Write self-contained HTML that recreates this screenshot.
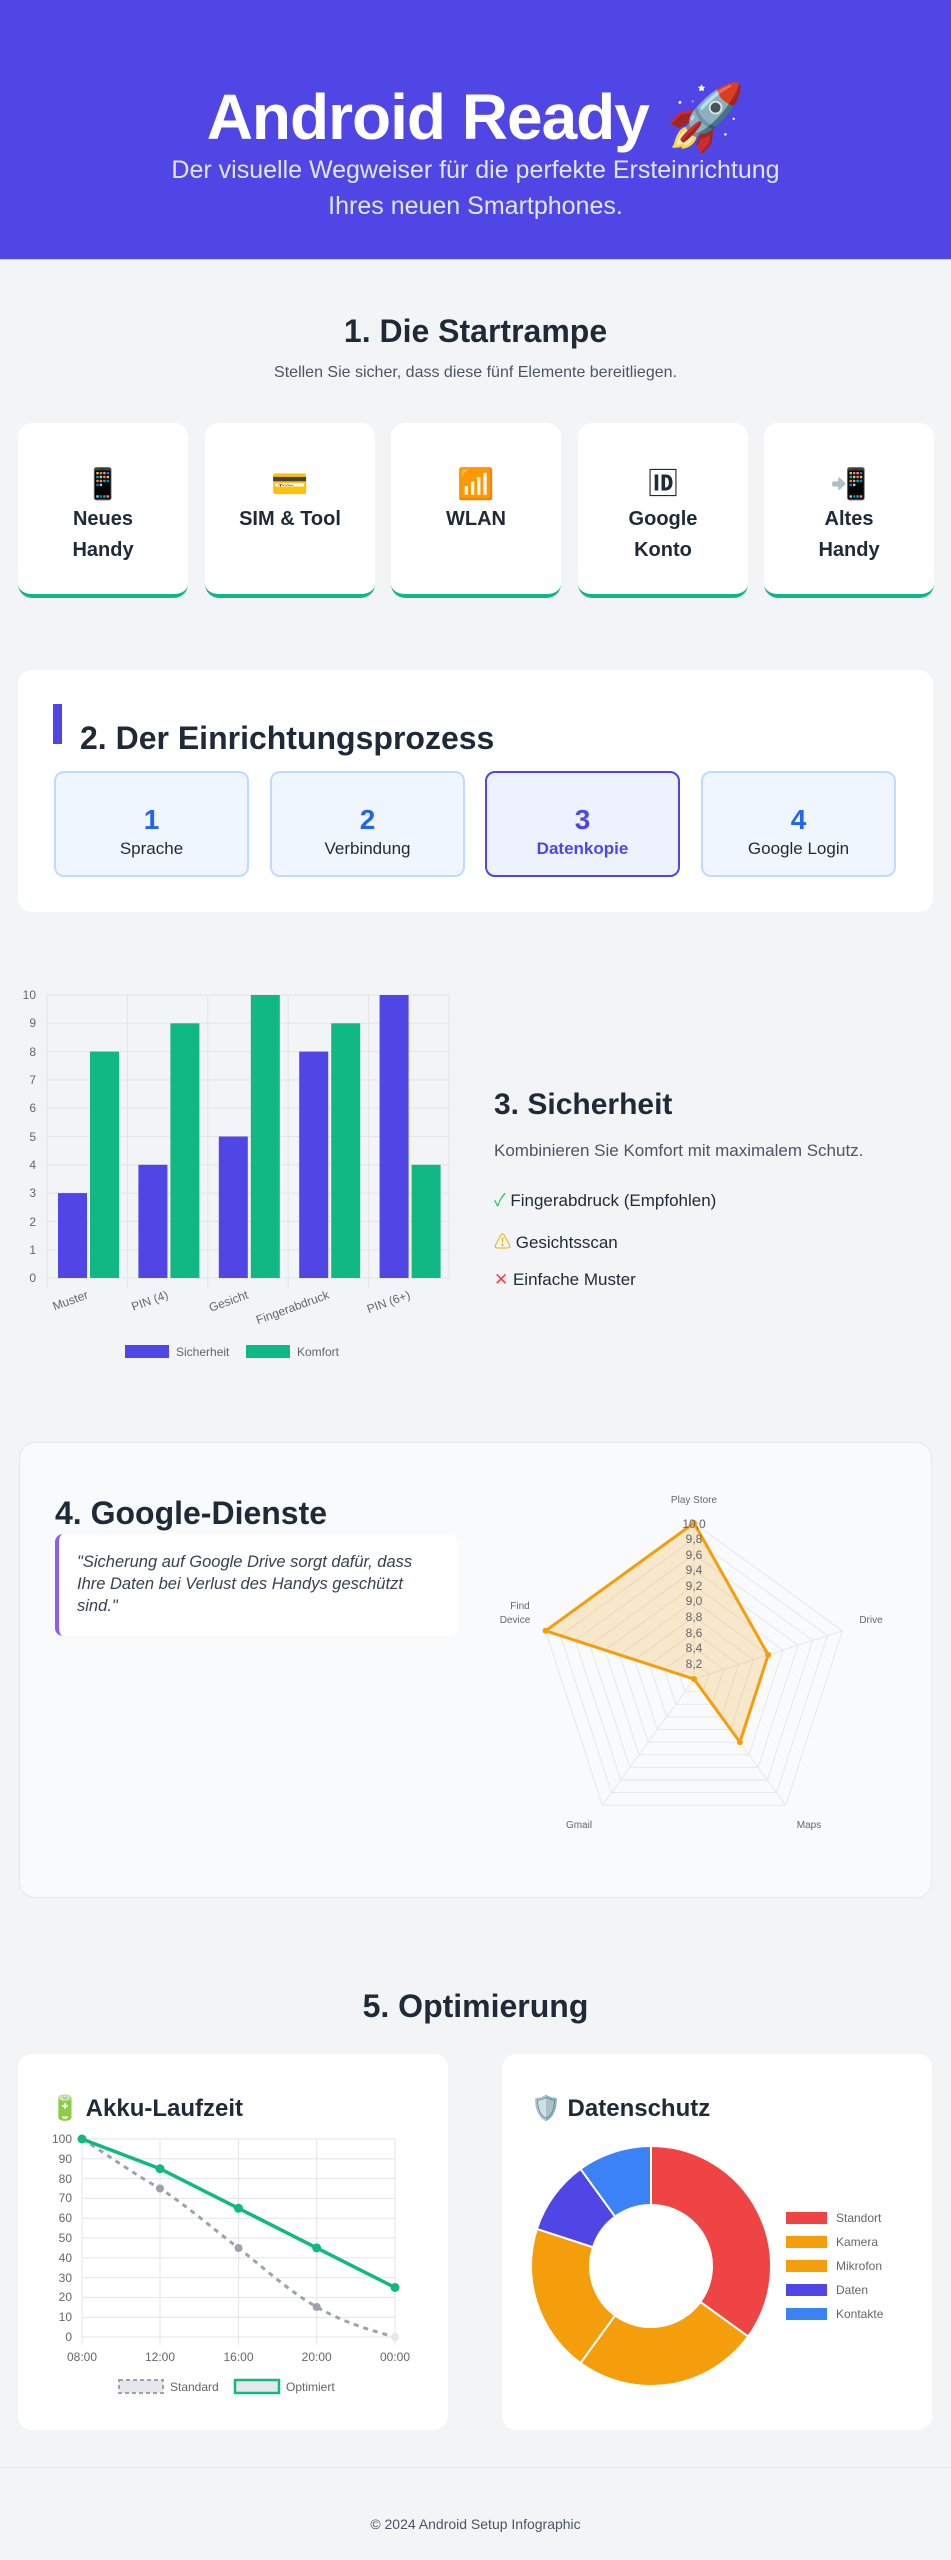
<!DOCTYPE html>
<html><head><meta charset="utf-8"><style>
*{margin:0;padding:0;box-sizing:border-box}
body{width:951px;height:2560px;background:#f3f4f6;font-family:"Liberation Sans","Noto Sans CJK SC",sans-serif;position:relative;overflow:hidden;color:#1f2937}
.a{position:absolute}
.hdr{left:0;top:0;width:951px;height:260px;background:#4f46e5;border-bottom:1px solid #c7d2fe}
.t{width:100%;text-align:center}
.card{background:#fff;border-radius:14px}
.sc{top:423px;width:170px;height:175px;border-bottom:4px solid #10b981;text-align:center;font-weight:bold;font-size:20px;line-height:31px;color:#1f2937}
.sc .ic{display:block;font-size:30px;line-height:34px;margin-top:45px;margin-bottom:2px}
.step{top:771px;width:195px;height:106px;background:#eff6ff;border:2px solid #bfdbfe;border-radius:10px;text-align:center}
.step b{display:block;font-size:28px;color:#2563eb;margin-top:30px;line-height:34px}
.step span{display:block;font-size:17px;color:#1f2937;margin-top:2px}
</style></head><body>
<div class="a hdr"></div>
<div class="a t" style="top:80px;font-size:64px;font-weight:bold;color:#fff;letter-spacing:-1px">Android Ready 🚀</div>
<div class="a t" style="top:152px;font-size:25px;line-height:36px;color:#e0e7ff">Der visuelle Wegweiser für die perfekte Ersteinrichtung<br>Ihres neuen Smartphones.</div>

<div class="a t" style="top:313px;font-size:32px;font-weight:bold;color:#1f2937">1. Die Startrampe</div>
<div class="a t" style="top:364px;font-size:16px;color:#4b5563">Stellen Sie sicher, dass diese fünf Elemente bereitliegen.</div>

<div class="a card sc" style="left:18px"><span class="ic">📱</span>Neues<br>Handy</div>
<div class="a card sc" style="left:205px"><span class="ic">💳</span>SIM &amp; Tool</div>
<div class="a card sc" style="left:391px"><span class="ic">📶</span>WLAN</div>
<div class="a card sc" style="left:578px"><span class="ic">🆔</span>Google<br>Konto</div>
<div class="a card sc" style="left:764px"><span class="ic">📲</span>Altes<br>Handy</div>

<div class="a card" style="left:18px;top:670px;width:915px;height:242px"></div>
<div class="a" style="left:53px;top:704px;width:9px;height:40px;background:#4f46e5"></div>
<div class="a" style="left:80px;top:720px;font-size:32px;font-weight:bold;color:#1f2937">2. Der Einrichtungsprozess</div>
<div class="a step" style="left:54px"><b>1</b><span>Sprache</span></div>
<div class="a step" style="left:270px"><b>2</b><span>Verbindung</span></div>
<div class="a step" style="left:485px;border-color:#4f46e5;background:#eef2ff"><b style="color:#4f46e5">3</b><span style="color:#4f46e5;font-weight:bold">Datenkopie</span></div>
<div class="a step" style="left:701px"><b>4</b><span>Google Login</span></div>

<div class="a" style="left:494px;top:1088px;font-size:30px;font-weight:bold;color:#1f2937">3. Sicherheit</div>
<div class="a" style="left:494px;top:1141px;font-size:17px;color:#4b5563">Kombinieren Sie Komfort mit maximalem Schutz.</div>
<div class="a" style="left:494px;top:1186px;font-size:17px;color:#1f2937"><span style="color:#22c55e">✓</span> Fingerabdruck (Empfohlen)</div>
<div class="a" style="left:494px;top:1228px;font-size:17px;color:#1f2937"><span style="color:#eab308">⚠</span> Gesichtsscan</div>
<div class="a" style="left:494px;top:1270px;font-size:17px;color:#1f2937"><span style="color:#ef4444">✕</span> Einfache Muster</div>

<div class="a" style="left:19px;top:1442px;width:913px;height:456px;background:#f8fafc;border:1px solid #e5e7eb;border-radius:16px"></div>
<div class="a" style="left:55px;top:1495px;font-size:32px;font-weight:bold;color:#1f2937">4. Google-Dienste</div>
<div class="a" style="left:55px;top:1534px;width:402px;height:102px;background:#fff;border-left:4px solid #8b5cf6;border-radius:8px;padding:17px 30px 0 18px;font-size:16.5px;line-height:22px;font-style:italic;color:#374151">"Sicherung auf Google Drive sorgt dafür, dass Ihre Daten bei Verlust des Handys geschützt sind."</div>

<div class="a t" style="top:1988px;font-size:32px;font-weight:bold;color:#1f2937">5. Optimierung</div>
<div class="a card" style="left:18px;top:2054px;width:430px;height:376px"></div>
<div class="a card" style="left:502px;top:2054px;width:430px;height:376px"></div>
<div class="a" style="left:50px;top:2094px;font-size:24px;font-weight:bold;color:#1f2937">🔋 Akku-Laufzeit</div>
<div class="a" style="left:531px;top:2094px;font-size:24px;font-weight:bold;color:#1f2937">🛡️ Datenschutz</div>

<div class="a" style="left:0;top:2467px;width:951px;border-top:1px solid #e5e7eb"></div>
<div class="a t" style="top:2516px;font-size:14px;color:#4b5563">© 2024 Android Setup Infographic</div>

<svg class="a" style="left:0;top:0" width="951" height="2560" font-family="Liberation Sans, sans-serif">
<g stroke="#e5e5e5" stroke-width="1">
<line x1="47" y1="995" x2="449" y2="995"/><line x1="47" y1="1023.3" x2="449" y2="1023.3"/><line x1="47" y1="1051.6" x2="449" y2="1051.6"/><line x1="47" y1="1079.9" x2="449" y2="1079.9"/><line x1="47" y1="1108.2" x2="449" y2="1108.2"/><line x1="47" y1="1136.5" x2="449" y2="1136.5"/><line x1="47" y1="1164.8" x2="449" y2="1164.8"/><line x1="47" y1="1193.1" x2="449" y2="1193.1"/><line x1="47" y1="1221.4" x2="449" y2="1221.4"/><line x1="47" y1="1249.7" x2="449" y2="1249.7"/><line x1="47" y1="1278" x2="449" y2="1278"/>
<line x1="47" y1="995" x2="47" y2="1288"/><line x1="127.4" y1="995" x2="127.4" y2="1288"/><line x1="207.8" y1="995" x2="207.8" y2="1288"/><line x1="288.2" y1="995" x2="288.2" y2="1288"/><line x1="368.6" y1="995" x2="368.6" y2="1288"/><line x1="449" y1="995" x2="449" y2="1278"/>
</g>
<g font-size="12" fill="#666" text-anchor="end">
<text x="36" y="999">10</text><text x="36" y="1027">9</text><text x="36" y="1056">8</text><text x="36" y="1084">7</text><text x="36" y="1112">6</text><text x="36" y="1141">5</text><text x="36" y="1169">4</text><text x="36" y="1197">3</text><text x="36" y="1226">2</text><text x="36" y="1254">1</text><text x="36" y="1282">0</text>
</g>
<g fill="#4f46e5">
<rect x="58" y="1193.1" width="29" height="84.9"/><rect x="138.4" y="1164.8" width="29" height="113.2"/><rect x="218.8" y="1136.5" width="29" height="141.5"/><rect x="299.2" y="1051.6" width="29" height="226.4"/><rect x="379.6" y="995" width="29" height="283"/>
</g>
<g fill="#10b981">
<rect x="90" y="1051.6" width="29" height="226.4"/><rect x="170.4" y="1023.3" width="29" height="254.7"/><rect x="250.8" y="995" width="29" height="283"/><rect x="331.2" y="1023.3" width="29" height="254.7"/><rect x="411.6" y="1164.8" width="29" height="113.2"/>
</g>
<g font-size="12" fill="#666" text-anchor="end">
<text transform="translate(89,1298) rotate(-20)">Muster</text>
<text transform="translate(169,1298) rotate(-20)">PIN (4)</text>
<text transform="translate(249,1298) rotate(-20)">Gesicht</text>
<text transform="translate(330,1298) rotate(-20)">Fingerabdruck</text>
<text transform="translate(411,1298) rotate(-20)">PIN (6+)</text>
</g>
<rect x="125" y="1345" width="44" height="13" fill="#4f46e5"/><text x="176" y="1356" font-size="12" fill="#666">Sicherheit</text>
<rect x="246" y="1345" width="44" height="13" fill="#10b981"/><text x="297" y="1356" font-size="12" fill="#666">Komfort</text>

<g fill="none" stroke="#e5e7eb" stroke-width="1">
<polygon points="694,1523 842.4,1630.8 785.7,1805.2 602.3,1805.2 545.6,1630.8"/>
<polygon points="694,1538.6 827.5,1635.6 776.5,1792.6 611.5,1792.6 560.5,1635.6"/>
<polygon points="694,1554.2 812.7,1640.4 767.3,1780 620.7,1780 575.3,1640.4"/>
<polygon points="694,1569.8 797.9,1645.2 758.2,1767.3 629.8,1767.3 590.1,1645.2"/>
<polygon points="694,1585.4 783,1650.1 749,1754.7 639,1754.7 605,1650.1"/>
<polygon points="694,1601 768.2,1654.9 739.9,1742.1 648.1,1742.1 619.8,1654.9"/>
<polygon points="694,1616.6 753.4,1659.7 730.7,1729.5 657.3,1729.5 634.6,1659.7"/>
<polygon points="694,1632.2 738.5,1664.5 721.5,1716.9 666.5,1716.9 649.5,1664.5"/>
<polygon points="694,1647.8 723.7,1669.4 712.3,1704.2 675.7,1704.2 664.3,1669.4"/>
<polygon points="694,1663.4 708.8,1674.2 703.2,1691.6 684.8,1691.6 679.2,1674.2"/>
<line x1="694" y1="1679" x2="694" y2="1523"/><line x1="694" y1="1679" x2="842.4" y2="1630.8"/><line x1="694" y1="1679" x2="785.7" y2="1805.2"/><line x1="694" y1="1679" x2="602.3" y2="1805.2"/><line x1="694" y1="1679" x2="545.6" y2="1630.8"/>
</g>
<polygon points="694,1523 768.2,1654.9 739.9,1742.1 694,1679 545.6,1630.8" fill="rgba(245,158,11,0.2)" stroke="#f59e0b" stroke-width="3" stroke-linejoin="round"/>
<g fill="#f59e0b"><circle cx="694" cy="1523" r="3"/><circle cx="768.2" cy="1654.9" r="3"/><circle cx="739.9" cy="1742.1" r="3"/><circle cx="694" cy="1679" r="3"/><circle cx="545.6" cy="1630.8" r="3"/></g>
<g font-size="12" fill="#666" text-anchor="middle">
<text x="694" y="1528">10,0</text><text x="694" y="1543">9,8</text><text x="694" y="1559">9,6</text><text x="694" y="1574">9,4</text><text x="694" y="1590">9,2</text><text x="694" y="1605">9,0</text><text x="694" y="1621">8,8</text><text x="694" y="1637">8,6</text><text x="694" y="1652">8,4</text><text x="694" y="1668">8,2</text>
</g>
<g font-size="10" fill="#666" text-anchor="middle">
<text x="694" y="1503">Play Store</text><text x="871" y="1623">Drive</text><text x="809" y="1828">Maps</text><text x="579" y="1828">Gmail</text><text x="520" y="1609">Find</text><text x="515" y="1623">Device</text>
</g>

<g stroke="#e5e5e5" stroke-width="1">
<line x1="82" y1="2139" x2="395" y2="2139"/><line x1="82" y1="2158.8" x2="395" y2="2158.8"/><line x1="82" y1="2178.6" x2="395" y2="2178.6"/><line x1="82" y1="2198.4" x2="395" y2="2198.4"/><line x1="82" y1="2218.2" x2="395" y2="2218.2"/><line x1="82" y1="2238" x2="395" y2="2238"/><line x1="82" y1="2257.8" x2="395" y2="2257.8"/><line x1="82" y1="2277.6" x2="395" y2="2277.6"/><line x1="82" y1="2297.4" x2="395" y2="2297.4"/><line x1="82" y1="2317.2" x2="395" y2="2317.2"/><line x1="82" y1="2337" x2="395" y2="2337"/>
<line x1="82" y1="2139" x2="82" y2="2345"/><line x1="160" y1="2139" x2="160" y2="2345"/><line x1="238.5" y1="2139" x2="238.5" y2="2345"/><line x1="316.7" y1="2139" x2="316.7" y2="2345"/><line x1="395" y1="2139" x2="395" y2="2345"/>
</g>
<g font-size="12" fill="#666" text-anchor="end">
<text x="72" y="2143">100</text><text x="72" y="2163">90</text><text x="72" y="2183">80</text><text x="72" y="2202">70</text><text x="72" y="2222">60</text><text x="72" y="2242">50</text><text x="72" y="2262">40</text><text x="72" y="2282">30</text><text x="72" y="2301">20</text><text x="72" y="2321">10</text><text x="72" y="2341">0</text>
</g>
<g font-size="12" fill="#666" text-anchor="middle">
<text x="82" y="2361">08:00</text><text x="160" y="2361">12:00</text><text x="238.5" y="2361">16:00</text><text x="316.7" y="2361">20:00</text><text x="395" y="2361">00:00</text>
</g>
<path d="M82,2139 C108,2155 134,2174 160,2188.5 C186,2205 212,2228 238.5,2248 C264,2268 290,2292 316.7,2307 C343,2322 369,2330 395,2337" fill="none" stroke="#9ca3af" stroke-width="3" stroke-dasharray="5,5"/>
<g fill="#9ca3af"><circle cx="82" cy="2139" r="4"/><circle cx="160" cy="2188.5" r="4"/><circle cx="238.5" cy="2248" r="4"/><circle cx="316.7" cy="2307" r="4"/><circle cx="395" cy="2337" r="4" fill="#e5e7eb"/></g>
<polyline points="82,2139 160,2168.7 238.5,2208.3 316.7,2247.9 395,2287.5" fill="none" stroke="#10b981" stroke-width="3.5"/>
<g fill="#10b981"><circle cx="82" cy="2139" r="4.5"/><circle cx="160" cy="2168.7" r="4.5"/><circle cx="238.5" cy="2208.3" r="4.5"/><circle cx="316.7" cy="2247.9" r="4.5"/><circle cx="395" cy="2287.5" r="4.5"/></g>
<rect x="119" y="2380" width="44" height="13" fill="#e5e7eb" stroke="#9ca3af" stroke-width="2" stroke-dasharray="4,3"/><text x="170" y="2391" font-size="12" fill="#666">Standard</text>
<rect x="235" y="2380" width="44" height="13" fill="#e5e7eb" stroke="#10b981" stroke-width="2.5"/><text x="286" y="2391" font-size="12" fill="#666">Optimiert</text>

<g stroke="#fff" stroke-width="2">
<path d="M651,2146 A120,120 0 0 1 748.1,2336.5 L700.3,2301.9 A61,61 0 0 0 651,2205 Z" fill="#ef4444"/>
<path d="M748.1,2336.5 A120,120 0 0 1 580.5,2363.1 L615.1,2315.4 A61,61 0 0 0 700.3,2301.9 Z" fill="#f59e0b"/>
<path d="M580.5,2363.1 A120,120 0 0 1 536.9,2228.9 L593,2247.2 A61,61 0 0 0 615.1,2315.4 Z" fill="#f59e0b"/>
<path d="M536.9,2228.9 A120,120 0 0 1 580.5,2168.9 L615.1,2216.6 A61,61 0 0 0 593,2247.2 Z" fill="#4f46e5"/>
<path d="M580.5,2168.9 A120,120 0 0 1 651,2146 L651,2205 A61,61 0 0 0 615.1,2216.6 Z" fill="#3b82f6"/>
</g>
<g font-size="12" fill="#666">
<rect x="786" y="2212" width="41" height="12" fill="#ef4444"/><text x="836" y="2222">Standort</text>
<rect x="786" y="2236" width="41" height="12" fill="#f59e0b"/><text x="836" y="2246">Kamera</text>
<rect x="786" y="2260" width="41" height="12" fill="#f59e0b"/><text x="836" y="2270">Mikrofon</text>
<rect x="786" y="2284" width="41" height="12" fill="#4f46e5"/><text x="836" y="2294">Daten</text>
<rect x="786" y="2308" width="41" height="12" fill="#3b82f6"/><text x="836" y="2318">Kontakte</text>
</g>
</svg>
</body></html>
